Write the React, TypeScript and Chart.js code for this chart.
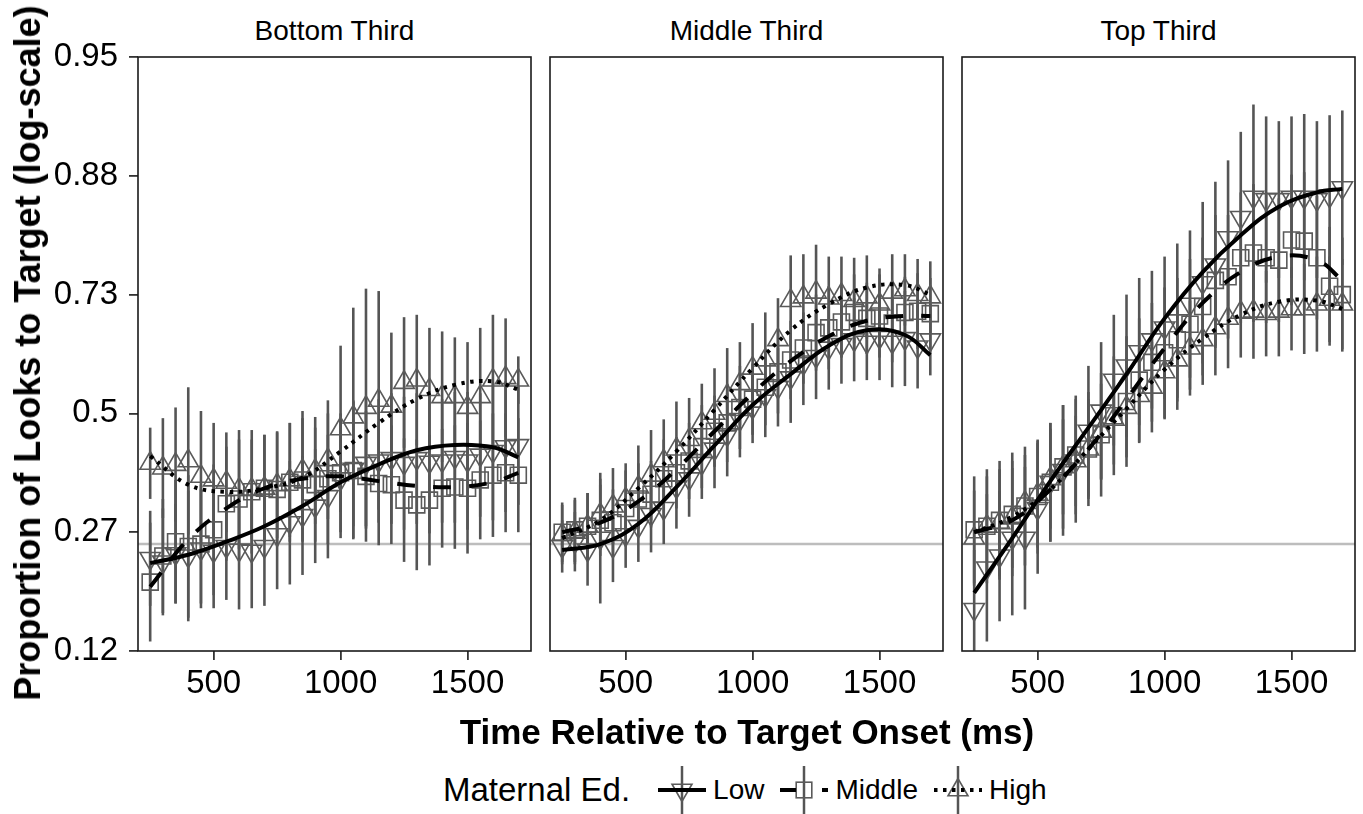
import React, { useEffect, useRef } from 'react';
import { Chart, registerables } from 'chart.js';

Chart.register(...registerables);

// ---------------- data (logit scale) ----------------
const times = [250, 300, 350, 400, 450, 500, 550, 600, 650, 700, 750, 800, 850, 900, 950, 1000, 1050, 1100, 1150, 1200, 1250, 1300, 1350, 1400, 1450, 1500, 1550, 1600, 1650, 1700];
const fitTimes = [250, 400, 550, 700, 850, 1000, 1150, 1300, 1450, 1600, 1700];

const xTickValues = [500, 1000, 1500];
const xTickLabels = ['500', '1000', '1500'];
const yTickValues = [-2, -1, 0, 1, 2, 3];
const yTickLabels = ['0.12', '0.27', '0.5', '0.73', '0.88', '0.95'];
const chanceLevel = -1.0986; // logit(0.25)

const panelTitles = ['Bottom Third', 'Middle Third', 'Top Third'];
const seriesNames = ['Low', 'Middle', 'High'];

// Bottom Third
const bottomLow = [-1.22, -1.25, -1.18, -1.20, -1.14, -1.16, -1.12, -1.15, -1.16, -1.12, -1.02, -0.92, -0.86, -0.78, -0.70, -0.55, -0.47, -0.42, -0.40, -0.38, -0.42, -0.38, -0.41, -0.40, -0.37, -0.40, -0.35, -0.32, -0.28, -0.27];
const bottomLowErr = [0.40, 0.45, 0.42, 0.55, 0.50, 0.48, 0.45, 0.50, 0.48, 0.50, 0.46, 0.52, 0.50, 0.48, 0.52, 0.50, 0.58, 0.55, 0.52, 0.55, 0.56, 0.55, 0.60, 0.52, 0.55, 0.58, 0.52, 0.58, 0.55, 0.50];
const bottomMid = [-1.42, -1.20, -1.08, -1.12, -1.10, -0.98, -0.76, -0.72, -0.66, -0.63, -0.64, -0.58, -0.56, -0.60, -0.55, -0.50, -0.48, -0.53, -0.59, -0.60, -0.73, -0.77, -0.73, -0.63, -0.62, -0.63, -0.56, -0.52, -0.50, -0.52];
const bottomMidErr = [0.50, 0.48, 0.52, 0.60, 0.50, 0.55, 0.48, 0.50, 0.52, 0.45, 0.48, 0.50, 0.52, 0.48, 0.55, 0.50, 0.58, 0.55, 0.52, 0.50, 0.52, 0.55, 0.55, 0.50, 0.52, 0.55, 0.50, 0.52, 0.50, 0.48];
const bottomHigh = [-0.42, -0.46, -0.43, -0.40, -0.53, -0.56, -0.58, -0.64, -0.64, -0.63, -0.60, -0.56, -0.48, -0.48, -0.39, -0.13, -0.03, 0.05, 0.11, 0.06, 0.26, 0.28, 0.20, 0.14, 0.14, 0.05, 0.14, 0.28, 0.30, 0.28];
const bottomHighErr = [0.30, 0.42, 0.48, 0.62, 0.55, 0.48, 0.42, 0.50, 0.42, 0.45, 0.45, 0.48, 0.50, 0.45, 0.50, 0.70, 0.92, 1.00, 0.92, 0.62, 0.55, 0.55, 0.52, 0.55, 0.50, 0.55, 0.58, 0.55, 0.50, 0.20];
const bottomLowFit = [-1.26, -1.19, -1.08, -0.95, -0.78, -0.58, -0.43, -0.31, -0.265, -0.285, -0.37];
const bottomMidFit = [-1.46, -1.06, -0.80, -0.63, -0.55, -0.53, -0.57, -0.61, -0.62, -0.58, -0.50];
const bottomHighFit = [-0.36, -0.60, -0.66, -0.63, -0.54, -0.32, -0.08, 0.12, 0.24, 0.27, 0.20];

// Middle Third
const middleLow = [-1.12, -1.08, -1.15, -1.05, -1.12, -1.02, -0.95, -0.85, -0.80, -0.62, -0.55, -0.42, -0.30, -0.18, -0.05, 0.05, 0.15, 0.22, 0.30, 0.42, 0.48, 0.55, 0.58, 0.62, 0.60, 0.64, 0.60, 0.63, 0.56, 0.62];
const middleLowErr = [0.22, 0.25, 0.30, 0.55, 0.30, 0.28, 0.30, 0.32, 0.30, 0.35, 0.32, 0.30, 0.33, 0.35, 0.32, 0.30, 0.35, 0.33, 0.38, 0.35, 0.36, 0.35, 0.33, 0.35, 0.32, 0.36, 0.38, 0.40, 0.35, 0.30];
const middleMid = [-1.00, -0.98, -0.95, -0.90, -0.92, -0.80, -0.72, -0.68, -0.55, -0.50, -0.40, -0.28, -0.15, -0.08, 0.05, 0.12, 0.22, 0.35, 0.45, 0.55, 0.68, 0.72, 0.77, 0.85, 0.80, 0.82, 0.76, 0.85, 0.86, 0.84];
const middleMidErr = [0.25, 0.27, 0.28, 0.30, 0.28, 0.32, 0.30, 0.28, 0.33, 0.30, 0.32, 0.35, 0.30, 0.33, 0.35, 0.30, 0.32, 0.35, 0.33, 0.30, 0.32, 0.35, 0.30, 0.32, 0.30, 0.35, 0.33, 0.30, 0.32, 0.30];
const middleHigh = [-1.02, -1.00, -0.95, -0.85, -0.78, -0.72, -0.62, -0.52, -0.40, -0.30, -0.22, -0.08, 0.00, 0.15, 0.25, 0.38, 0.45, 0.62, 0.95, 0.98, 1.02, 0.97, 1.00, 0.95, 0.98, 0.92, 1.02, 1.04, 1.00, 0.98];
const middleHighErr = [0.25, 0.27, 0.28, 0.30, 0.32, 0.30, 0.35, 0.38, 0.35, 0.40, 0.35, 0.33, 0.38, 0.40, 0.35, 0.38, 0.40, 0.35, 0.38, 0.36, 0.40, 0.35, 0.32, 0.36, 0.35, 0.30, 0.32, 0.30, 0.30, 0.30];
const middleLowFit = [-1.15, -1.10, -0.93, -0.62, -0.27, 0.07, 0.33, 0.57, 0.70, 0.66, 0.49];
const middleMidFit = [-1.00, -0.92, -0.74, -0.47, -0.15, 0.17, 0.44, 0.65, 0.78, 0.82, 0.82];
const middleHighFit = [-1.05, -0.90, -0.63, -0.32, 0.03, 0.38, 0.70, 0.92, 1.06, 1.08, 1.00];

// Top Third
const topLow = [-1.65, -1.30, -1.20, -1.05, -1.05, -0.80, -0.58, -0.48, -0.40, -0.15, 0.02, 0.28, 0.40, 0.52, 0.62, 0.72, 0.78, 0.92, 1.10, 1.25, 1.48, 1.65, 1.82, 1.80, 1.80, 1.82, 1.82, 1.80, 1.83, 1.90];
const topLowErr = [0.50, 0.62, 0.55, 0.65, 0.60, 0.55, 0.50, 0.55, 0.52, 0.55, 0.58, 0.55, 0.60, 0.62, 0.58, 0.60, 0.65, 0.62, 0.68, 0.70, 0.65, 0.72, 0.78, 0.70, 0.66, 0.68, 0.70, 0.66, 0.68, 0.65];
const topMid = [-0.98, -0.95, -0.90, -0.85, -0.78, -0.70, -0.58, -0.45, -0.35, -0.30, -0.18, -0.02, 0.10, 0.28, 0.43, 0.51, 0.62, 0.75, 0.90, 1.12, 1.15, 1.31, 1.35, 1.31, 1.29, 1.46, 1.45, 1.31, 1.07, 1.00];
const topMidErr = [0.45, 0.48, 0.50, 0.52, 0.50, 0.48, 0.50, 0.52, 0.50, 0.48, 0.52, 0.50, 0.55, 0.52, 0.50, 0.55, 0.52, 0.55, 0.58, 0.55, 0.52, 0.55, 0.58, 0.55, 0.52, 0.55, 0.58, 0.52, 0.50, 0.48];
const topHigh = [-1.05, -0.95, -0.92, -0.88, -0.75, -0.68, -0.55, -0.45, -0.40, -0.30, -0.15, -0.05, 0.05, 0.15, 0.22, 0.35, 0.45, 0.55, 0.62, 0.72, 0.80, 0.85, 0.86, 0.84, 0.86, 0.88, 0.88, 0.92, 0.96, 0.92];
const topHighErr = [0.40, 0.42, 0.45, 0.42, 0.40, 0.45, 0.42, 0.40, 0.38, 0.42, 0.40, 0.38, 0.42, 0.40, 0.38, 0.40, 0.42, 0.40, 0.38, 0.40, 0.42, 0.38, 0.40, 0.36, 0.38, 0.35, 0.38, 0.40, 0.36, 0.38];
const topLowFit = [-1.51, -1.05, -0.57, -0.12, 0.33, 0.80, 1.19, 1.50, 1.74, 1.86, 1.89];
const topMidFit = [-1.00, -0.90, -0.64, -0.30, 0.12, 0.55, 0.93, 1.19, 1.32, 1.29, 1.12];
const topHighFit = [-1.00, -0.87, -0.64, -0.30, 0.04, 0.37, 0.63, 0.83, 0.94, 0.95, 0.88];

const panels = [
  { means: [bottomLow, bottomMid, bottomHigh], errs: [bottomLowErr, bottomMidErr, bottomHighErr], fits: [bottomLowFit, bottomMidFit, bottomHighFit] },
  { means: [middleLow, middleMid, middleHigh], errs: [middleLowErr, middleMidErr, middleHighErr], fits: [middleLowFit, middleMidFit, middleHighFit] },
  { means: [topLow, topMid, topHigh], errs: [topLowErr, topMidErr, topHighErr], fits: [topLowFit, topMidFit, topHighFit] },
];

// ---------------- styling / layout ----------------
const FONT = '"Liberation Sans", Arial, Helvetica, sans-serif';
const GRAY = '#555555';
const MARKER_GRAY = '#5a5a5a';
const PANEL_LEFTS = [138, 550, 962];
const PANEL_W = 393;
const PANEL_TOP = 57;
const PANEL_BOTTOM = 651;
const CANVAS_H = 720;
const SIDE_PAD = 8;

const markerStyles = [
  { pointStyle: 'triangle', rotation: 180, radius: 11.8 },
  { pointStyle: 'rect', rotation: 0, radius: 11.3 },
  { pointStyle: 'triangle', rotation: 0, radius: 11.8 },
];
const lineDashes = [[], [18, 18], [3.5, 5.5]];

function Panel({ idx }: { idx: number }) {
  const ref = useRef<HTMLCanvasElement | null>(null);
  const first = idx === 0;
  const canvasLeft = first ? 0 : PANEL_LEFTS[idx] - SIDE_PAD;
  const canvasW = first ? PANEL_LEFTS[0] + PANEL_W + SIDE_PAD : PANEL_W + 2 * SIDE_PAD;

  useEffect(() => {
    const p = panels[idx];
    const datasets: any[] = [];
    p.fits.forEach((f, s) => {
      datasets.push({
        type: 'line',
        label: seriesNames[s] + ' fit',
        data: fitTimes.map((t, i) => ({ x: t, y: f[i] })),
        borderColor: '#000',
        borderWidth: 4,
        borderDash: lineDashes[s],
        borderCapStyle: 'butt',
        pointRadius: 0,
        tension: 0.4,
        fill: false,
        order: 0,
      });
    });
    p.means.forEach((m, s) => {
      const ms = markerStyles[s];
      datasets.push({
        type: 'scatter',
        label: seriesNames[s],
        data: times.map((t, i) => ({ x: t, y: m[i] })),
        pointStyle: ms.pointStyle,
        rotation: ms.rotation,
        pointRadius: ms.radius,
        pointBorderWidth: 1.6,
        pointBorderColor: MARKER_GRAY,
        pointBackgroundColor: 'rgba(0,0,0,0)',
        borderColor: MARKER_GRAY,
        backgroundColor: 'rgba(0,0,0,0)',
        showLine: false,
        order: 1,
      });
    });

    const panelPlugin = {
      id: 'panelDecor' + idx,
      beforeDatasetsDraw(chart: any) {
        const { ctx, chartArea: a, scales } = chart;
        const x = scales.x;
        const y = scales.y;
        ctx.save();
        ctx.beginPath();
        ctx.rect(a.left, a.top, a.right - a.left, a.bottom - a.top);
        ctx.clip();
        const yc = y.getPixelForValue(chanceLevel);
        ctx.strokeStyle = '#bdbdbd';
        ctx.lineWidth = 2.5;
        ctx.beginPath();
        ctx.moveTo(a.left, yc);
        ctx.lineTo(a.right, yc);
        ctx.stroke();
        ctx.strokeStyle = GRAY;
        ctx.lineWidth = 2.6;
        ctx.lineCap = 'butt';
        p.means.forEach((m, s) => {
          m.forEach((v, i) => {
            const px = x.getPixelForValue(times[i]);
            const e = p.errs[s][i];
            ctx.beginPath();
            ctx.moveTo(px, y.getPixelForValue(v - e));
            ctx.lineTo(px, y.getPixelForValue(v + e));
            ctx.stroke();
          });
        });
        ctx.restore();
      },
      afterDraw(chart: any) {
        const { ctx, chartArea: a } = chart;
        ctx.save();
        ctx.strokeStyle = '#1a1a1a';
        ctx.lineWidth = 1.6;
        ctx.strokeRect(a.left, a.top, a.right - a.left, a.bottom - a.top);
        ctx.restore();
      },
    };

    const chart = new Chart(ref.current as HTMLCanvasElement, {
      type: 'scatter',
      data: { datasets },
      options: {
        animation: false,
        responsive: false,
        devicePixelRatio: 1,
        events: [],
        layout: {
          autoPadding: false,
          padding: { left: first ? 0 : SIDE_PAD, right: SIDE_PAD, top: PANEL_TOP, bottom: 0 },
        },
        plugins: { legend: { display: false }, tooltip: { enabled: false }, title: { display: false } },
        scales: {
          x: {
            type: 'linear',
            min: 202,
            max: 1750,
            afterBuildTicks: (s: any) => {
              s.ticks = xTickValues.map((v) => ({ value: v }));
            },
            afterFit: (s: any) => {
              s.height = CANVAS_H - PANEL_BOTTOM;
            },
            ticks: {
              autoSkip: false,
              maxRotation: 0,
              padding: 4,
              color: '#000',
              font: { family: FONT, size: 33 },
              callback: (v: any) => xTickLabels[xTickValues.indexOf(Number(v))] ?? '',
            },
            grid: { display: true, drawOnChartArea: false, drawTicks: true, tickLength: 9, color: '#333', lineWidth: 1.8 },
            border: { display: false },
          },
          y: {
            type: 'linear',
            display: first,
            min: -2,
            max: 3,
            afterBuildTicks: (s: any) => {
              s.ticks = yTickValues.map((v) => ({ value: v }));
            },
            afterFit: (s: any) => {
              s.width = first ? PANEL_LEFTS[0] : 0;
            },
            ticks: {
              autoSkip: false,
              padding: 11,
              color: '#000',
              font: { family: FONT, size: 33 },
              callback: (v: any) => yTickLabels[yTickValues.indexOf(Number(v))] ?? '',
            },
            grid: { display: true, drawOnChartArea: false, drawTicks: true, tickLength: 9, color: '#333', lineWidth: 1.8 },
            border: { display: false },
          },
        },
      },
      plugins: [panelPlugin],
    } as any);
    return () => chart.destroy();
  }, [idx]);

  return (
    <canvas
      ref={ref}
      width={canvasW}
      height={CANVAS_H}
      style={{ position: 'absolute', left: canvasLeft, top: 0, width: canvasW, height: CANVAS_H }}
    />
  );
}

function KeyGlyph({ s }: { s: number }) {
  const cx = 26;
  const cy = 24;
  let marker: any = null;
  if (s === 0) {
    const r = 11.5;
    marker = <polygon points={`${cx},${cy + r} ${cx - 0.866 * r},${cy - r / 2} ${cx + 0.866 * r},${cy - r / 2}`} fill="none" stroke={MARKER_GRAY} strokeWidth={1.6} />;
  } else if (s === 1) {
    const h = 7.8;
    marker = <rect x={cx - h} y={cy - h} width={2 * h} height={2 * h} fill="none" stroke={MARKER_GRAY} strokeWidth={1.6} />;
  } else {
    const r = 11.5;
    marker = <polygon points={`${cx},${cy - r} ${cx - 0.866 * r},${cy + r / 2} ${cx + 0.866 * r},${cy + r / 2}`} fill="none" stroke={MARKER_GRAY} strokeWidth={1.6} />;
  }
  const dash = s === 0 ? undefined : s === 1 ? '16 26' : '3.5 5.5';
  return (
    <svg width={52} height={48} style={{ display: 'block' }}>
      <line x1={cx} y1={0} x2={cx} y2={48} stroke={GRAY} strokeWidth={2.5} />
      {marker}
      <line x1={2} y1={cy} x2={50} y2={cy} stroke="#000" strokeWidth={4} strokeDasharray={dash} />
    </svg>
  );
}

export default function App() {
  return (
    <div style={{ position: 'fixed', left: 0, top: 0, width: 1363, height: 814, background: '#fff', overflow: 'hidden', fontFamily: FONT, color: '#000' }}>
      {panelTitles.map((t, i) => (
        <div
          key={t}
          style={{ position: 'absolute', left: PANEL_LEFTS[i], width: PANEL_W, top: 15, height: 32, lineHeight: '32px', textAlign: 'center', fontSize: 28 }}
        >
          {t}
        </div>
      ))}
      {[0, 1, 2].map((i) => (
        <Panel key={i} idx={i} />
      ))}
      <div
        style={{ position: 'absolute', left: 28, top: 353, transform: 'translate(-50%, -50%) rotate(-90deg)', whiteSpace: 'nowrap', fontWeight: 'bold', fontSize: 36, lineHeight: '40px' }}
      >
        Proportion of Looks to Target (log-scale)
      </div>
      <div
        style={{ position: 'absolute', left: 0, width: 1494, top: 712, height: 40, lineHeight: '40px', textAlign: 'center', whiteSpace: 'nowrap', fontWeight: 'bold', fontSize: 35 }}
      >
        Time Relative to Target Onset (ms)
      </div>
      <div style={{ position: 'absolute', left: 443, top: 766, height: 48, display: 'flex', alignItems: 'center', whiteSpace: 'nowrap' }}>
        <span style={{ fontSize: 33, marginRight: 26 }}>Maternal Ed.</span>
        {seriesNames.map((n, s) => (
          <React.Fragment key={n}>
            <KeyGlyph s={s} />
            <span style={{ fontSize: 28, marginLeft: 5, marginRight: 14 }}>{n}</span>
          </React.Fragment>
        ))}
      </div>
    </div>
  );
}
